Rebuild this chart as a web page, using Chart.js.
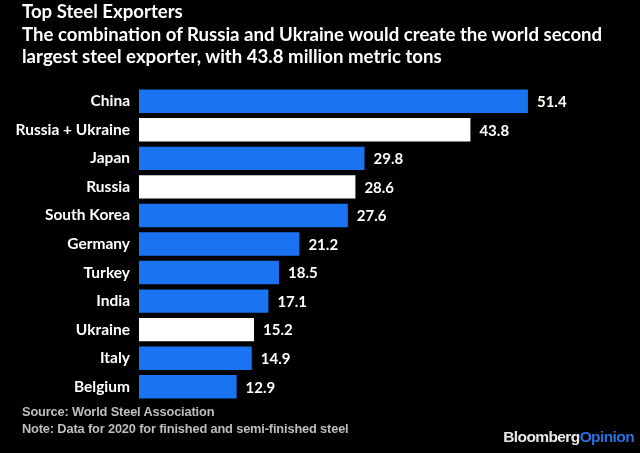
<!DOCTYPE html>
<html>
<head>
<meta charset="utf-8">
<script src="https://cdn.jsdelivr.net/npm/chart.js@4"></script>
<style>
html,body{margin:0;padding:0;background:#000;}
#wrap{position:relative;width:640px;height:453px;background:#000;overflow:hidden;}
canvas{position:absolute;left:0;top:0;}
#title{position:absolute;left:22px;top:0px;color:#fff;font-family:Lato,"Open Sans",sans-serif;font-weight:bold;font-size:18.6px;line-height:22.5px;white-space:nowrap;}
#foot{position:absolute;left:22px;top:403px;color:#bdbdbd;font-family:"Liberation Sans",Arial,sans-serif;font-weight:bold;font-size:12.8px;line-height:17px;letter-spacing:-0.15px;white-space:nowrap;}
#brand{position:absolute;right:6px;top:428px;font-family:"Liberation Sans",Arial,sans-serif;font-weight:bold;font-size:15.5px;letter-spacing:-0.6px;color:#e8e8e8;}
#brand span{color:#2a6fe0;}
</style>
</head>
<body>
<div id="wrap">
<canvas id="c" width="640" height="453"></canvas>
<div id="title">Top Steel Exporters<br>The combination of Russia and Ukraine would create the world second<br>largest steel exporter, with 43.8 million metric tons</div>
<div id="foot">Source: World Steel Association<br>Note: Data for 2020 for finished and semi-finished steel</div>
<div id="brand">Bloomberg<span>Opinion</span></div>
</div>
<script>
const categories = ["China","Russia + Ukraine","Japan","Russia","South Korea","Germany","Turkey","India","Ukraine","Italy","Belgium"];
const values = [51.4,43.8,29.8,28.6,27.6,21.2,18.5,17.1,15.2,14.9,12.9];
const highlighted = ["Russia + Ukraine","Russia","Ukraine"];

const BLUE = "#1a74f2";
const WHITE = "#ffffff";
const colors = categories.map(c => highlighted.includes(c) ? WHITE : BLUE);

const valueLabels = {
  id: "valueLabels",
  afterDatasetsDraw(chart) {
    const ctx = chart.ctx;
    const meta = chart.getDatasetMeta(0);
    ctx.save();
    ctx.fillStyle = "#ffffff";
    ctx.font = "bold 15px Lato, 'Open Sans', sans-serif";
    ctx.textAlign = "left";
    ctx.textBaseline = "middle";
    meta.data.forEach((bar, i) => {
      ctx.fillText(values[i].toFixed(1), bar.x + 9, bar.y + 1);
    });
    ctx.restore();
  }
};

new Chart(document.getElementById("c"), {
  type: "bar",
  data: {
    labels: categories,
    datasets: [{
      data: values,
      backgroundColor: colors,
      borderWidth: 0,
      barPercentage: 0.82,
      categoryPercentage: 1.0
    }]
  },
  options: {
    indexAxis: "y",
    responsive: false,
    animation: false,
    layout: { padding: { top: 87, bottom: 52, left: 0, right: 47 } },
    plugins: { legend: { display: false }, tooltip: { enabled: false }, title: { display: false } },
    scales: {
      x: { display: false, min: 0, max: 60 },
      y: {
        afterFit(scale) { scale.width = 139; },
        grid: { display: false, drawTicks: false },
        border: { display: false },
        ticks: {
          color: "#ffffff",
          padding: 9,
          font: { family: "Lato, 'Open Sans', sans-serif", weight: "bold", size: 15.5 }
        }
      }
    }
  },
  plugins: [valueLabels]
});
</script>
</body>
</html>
